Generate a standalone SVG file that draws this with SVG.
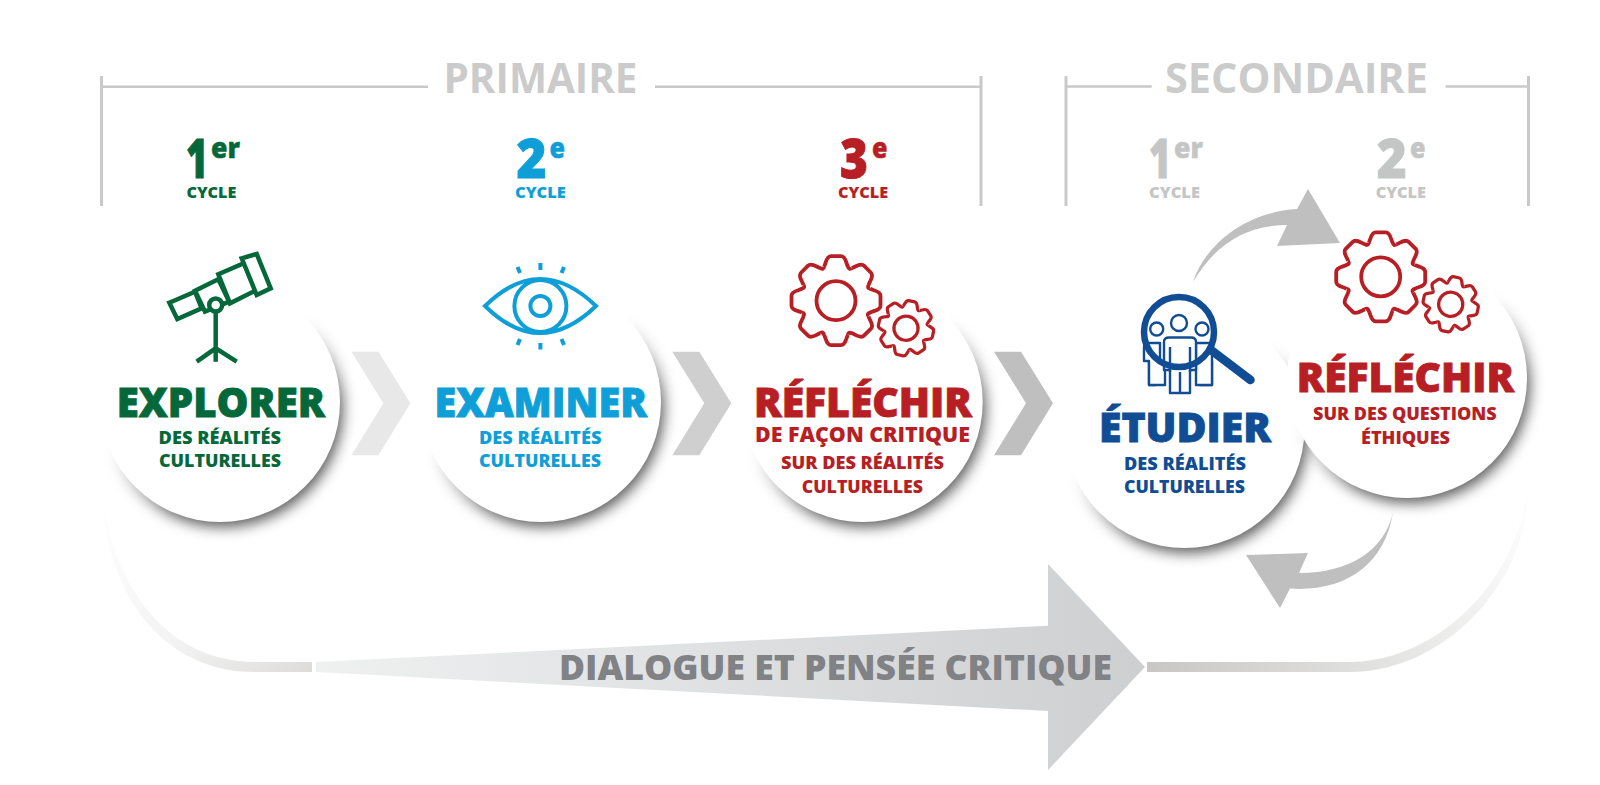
<svg xmlns="http://www.w3.org/2000/svg" xmlns:xlink="http://www.w3.org/1999/xlink" width="1600" height="785" viewBox="0 0 1600 785">
<style>
text{font-family:"Open Sans","Noto Sans","Liberation Sans",sans-serif;font-weight:800;stroke-width:0}
.h{font-size:42px;font-weight:700;fill:#cbcbcb}
.n{font-size:54px;stroke-width:1}.s{font-size:29px;stroke-width:.5}.c{font-size:16.500px}
.t{font-size:40px;stroke-width:.9}.m{font-size:21px}.d{font-size:18px}
.g{fill:#05683a;stroke:#05683a}.b{fill:#0f9fd8;stroke:#0f9fd8}.r{fill:#b71f24;stroke:#b71f24}.y{fill:#c4c6c6;stroke:#c4c6c6}.v{fill:#114d94;stroke:#114d94}
.line{stroke:#c9c9c9;fill:none}
.disc{fill:#fff}
.shad{fill:url(#sg);filter:url(#sh)}
.gear{fill:none;stroke:#b71f24;stroke-linejoin:round}
.tel{fill:#fff;stroke:#05683a;stroke-width:4.500}
.eye{fill:none;stroke:#0f9fd8;stroke-width:4}
.ppl{fill:#fff;stroke:#114d94;stroke-width:2.400;stroke-linejoin:round}
</style>
<defs>
<filter id="sh" x="-20%" y="-20%" width="140%" height="140%"><feGaussianBlur stdDeviation="7"/></filter>
<linearGradient id="sg" x1=".3" y1=".2" x2=".7" y2=".8"><stop offset=".36" stop-color="#000" stop-opacity="0"/><stop offset=".85" stop-color="#000" stop-opacity=".64"/></linearGradient>
<linearGradient id="ga" gradientUnits="userSpaceOnUse" x1="316" y1="0" x2="1145" y2="0"><stop offset="0" stop-color="#eff0f0"/><stop offset="1" stop-color="#cecfd1"/></linearGradient>
<linearGradient id="gl" gradientUnits="userSpaceOnUse" x1="104" y1="490" x2="312" y2="672"><stop offset="0" stop-color="#fff"/><stop offset=".55" stop-color="#f3f3f3"/><stop offset="1" stop-color="#dddcda"/></linearGradient>
<linearGradient id="gr" gradientUnits="userSpaceOnUse" x1="1147" y1="667" x2="1528" y2="490"><stop offset="0" stop-color="#c8c7c3"/><stop offset=".5" stop-color="#e2e2e0"/><stop offset=".8" stop-color="#f3f3f3"/><stop offset="1" stop-color="#fff"/></linearGradient>
<path id="tooth" d="M-12,-34C-10,-37 -10,-44.500 -5,-44.500H5C10,-44.500 10,-37 12,-34Q13,-30.500 15.560,-32.500"/>
<g id="gearp">
<use xlink:href="#tooth" href="#tooth"/>
<use xlink:href="#tooth" href="#tooth" transform="rotate(45)"/>
<use xlink:href="#tooth" href="#tooth" transform="rotate(90)"/>
<use xlink:href="#tooth" href="#tooth" transform="rotate(135)"/>
<use xlink:href="#tooth" href="#tooth" transform="rotate(180)"/>
<use xlink:href="#tooth" href="#tooth" transform="rotate(225)"/>
<use xlink:href="#tooth" href="#tooth" transform="rotate(270)"/>
<use xlink:href="#tooth" href="#tooth" transform="rotate(315)"/>
</g>
<g id="gears">
<g class="gear" stroke-width="3.800"><use xlink:href="#gearp" href="#gearp"/><circle r="19.500"/></g>
<g class="gear" stroke-width="5.200" transform="translate(70,27.500) rotate(12) scale(.62)"><use xlink:href="#gearp" href="#gearp"/><circle r="19.500"/></g>
</g>
<path id="chev" d="M0,0H27L59,51.500L27,103.500H0L32,51.500Z"/>
</defs>

<g id="connectors">
<path fill="url(#gl)" d="M102,490C104,590 160,672 255,672H312V662H255C170,662 112,590 102,490Z"/>
<path fill="url(#gr)" d="M1147,662H1350C1430,662 1515,590 1527,490H1529C1525,590 1440,672 1350,672H1147Z"/>
<path fill="url(#ga)" d="M316,662L1048,625.700V564L1145,667L1048,770V711L316,672Z"/>
<use xlink:href="#chev" href="#chev" x="351.400" y="351.700" fill="#e8e8e8"/>
<use xlink:href="#chev" href="#chev" x="672.300" y="351.700" fill="#cfcfcf"/>
<use xlink:href="#chev" href="#chev" x="994" y="351.700" fill="#bfbfbf"/>
<path fill="#bfbfbf" d="M1193,282C1205,245 1245,212 1297,209L1308,189L1340,243L1277,246L1287,225C1245,225 1215,245 1193,282Z"/>
<path fill="#bfbfbf" d="M1393,512C1385,550 1350,573 1299,573L1308,553L1246,555L1280,608L1290,588.600C1345,592 1385,565 1393,512Z"/>
</g>

<g id="bracket-primaire">
<path class="line" stroke-width="3" d="M101.500,76V206M981,76V206"/>
<path class="line" stroke-width="2.500" d="M101.500,86.700H428M655,86.700H981"/>
<text class="h" x="443.500" y="93.300" textLength="194" lengthAdjust="spacingAndGlyphs">PRIMAIRE</text>
</g>
<g id="bracket-secondaire">
<path class="line" stroke-width="3" d="M1066,76V206M1528.500,76V206"/>
<path class="line" stroke-width="2.500" d="M1066,86.500H1151.700M1445.700,86.500H1528.500"/>
<text class="h" x="1165" y="93.300" textLength="263" lengthAdjust="spacingAndGlyphs">SECONDAIRE</text>
</g>

<g id="cycle-p1" class="g">
<text class="n" x="186" y="178" textLength="22" lengthAdjust="spacingAndGlyphs">1</text>
<text class="s" x="211" y="158" textLength="29" lengthAdjust="spacingAndGlyphs">er</text>
<text class="c" x="186.400" y="197.700" textLength="50" lengthAdjust="spacingAndGlyphs">CYCLE</text>
</g>
<g id="cycle-p2" class="b">
<text class="n" x="516.400" y="178" textLength="30" lengthAdjust="spacingAndGlyphs">2</text>
<text class="s" x="549.600" y="158" textLength="15.500" lengthAdjust="spacingAndGlyphs">e</text>
<text class="c" x="515" y="197.700" textLength="50.700" lengthAdjust="spacingAndGlyphs">CYCLE</text>
</g>
<g id="cycle-p3" class="r">
<text class="n" x="840" y="178" textLength="28" lengthAdjust="spacingAndGlyphs">3</text>
<text class="s" x="872" y="158" textLength="15.500" lengthAdjust="spacingAndGlyphs">e</text>
<text class="c" x="838" y="197.700" textLength="50" lengthAdjust="spacingAndGlyphs">CYCLE</text>
</g>
<g id="cycle-s1" class="y">
<text class="n" x="1149" y="178" textLength="22" lengthAdjust="spacingAndGlyphs">1</text>
<text class="s" x="1174" y="158" textLength="29" lengthAdjust="spacingAndGlyphs">er</text>
<text class="c" x="1149" y="197.700" textLength="51" lengthAdjust="spacingAndGlyphs">CYCLE</text>
</g>
<g id="cycle-s2" class="y">
<text class="n" x="1376.700" y="178" textLength="30" lengthAdjust="spacingAndGlyphs">2</text>
<text class="s" x="1410" y="158" textLength="15.500" lengthAdjust="spacingAndGlyphs">e</text>
<text class="c" x="1375.700" y="197.700" textLength="50.300" lengthAdjust="spacingAndGlyphs">CYCLE</text>
</g>

<g id="node-explorer">
<circle class="shad" cx="223" cy="407" r="120"/>
<circle class="disc" cx="220" cy="402" r="120"/>
<g class="tel">
<path d="M169.300,302.700L195,291.700L201.700,308.300L177.300,319Z"/>
<path d="M195,290.700L218.300,279.300L229.300,301.700L205,311.700Z"/>
<path d="M218.300,274.300L245,262.700L256.700,290L230,303.300Z"/>
<path d="M241.700,258.300L256.700,254L270.700,288.300L256.700,295Z"/>
<path fill="none" d="M215.700,312V361.700M196.700,361.700L215.700,348.300L236.700,361.700"/>
<circle cx="215.700" cy="305" r="6.500"/>
</g>
<g class="g">
<text class="t" x="116.800" y="416.700" textLength="208" lengthAdjust="spacingAndGlyphs">EXPLORER</text>
<text class="d" x="158.600" y="444" textLength="122.400" lengthAdjust="spacingAndGlyphs">DES RÉALITÉS</text>
<text class="d" x="159" y="467" textLength="122" lengthAdjust="spacingAndGlyphs">CULTURELLES</text>
</g>
</g>

<g id="node-examiner">
<circle class="shad" cx="544" cy="407" r="120"/>
<circle class="disc" cx="541" cy="402" r="120"/>
<g class="eye">
<path d="M485,306Q540,252 596,306Q540,360 485,306Z"/>
<circle cx="540.400" cy="306" r="26"/>
<circle cx="540.400" cy="306" r="10"/>
<path d="M540.400,263V270M517.500,267L520,273M564,267L561.500,273M540.400,343V349.500M517.500,345L520,339M564,345L561.500,339"/>
</g>
<g class="b">
<text class="t" x="434.600" y="416.700" textLength="212.400" lengthAdjust="spacingAndGlyphs">EXAMINER</text>
<text class="d" x="479" y="444" textLength="122.400" lengthAdjust="spacingAndGlyphs">DES RÉALITÉS</text>
<text class="d" x="479" y="467" textLength="122" lengthAdjust="spacingAndGlyphs">CULTURELLES</text>
</g>
</g>

<g id="node-reflechir-1">
<circle class="shad" cx="865.700" cy="407" r="120"/>
<circle class="disc" cx="862.700" cy="402" r="120"/>
<use xlink:href="#gears" href="#gears" x="836" y="300.700"/>
<g class="r">
<text class="t" x="754" y="416.700" textLength="218" lengthAdjust="spacingAndGlyphs">RÉFLÉCHIR</text>
<text class="m" x="755" y="441.700" textLength="215" lengthAdjust="spacingAndGlyphs">DE FAÇON CRITIQUE</text>
<text class="d" x="781" y="469" textLength="163" lengthAdjust="spacingAndGlyphs">SUR DES RÉALITÉS</text>
<text class="d" x="801.700" y="493" textLength="121.300" lengthAdjust="spacingAndGlyphs">CULTURELLES</text>
</g>
</g>

<g id="node-etudier">
<circle class="shad" cx="1187.500" cy="433" r="120"/>
<circle class="disc" cx="1184.500" cy="428" r="120"/>
<g class="ppl">
<path d="M1144,361V347Q1144,343 1148,343H1160V361H1156V385H1149V361Z"/>
<path d="M1212,361V347Q1212,343 1208,343H1196V361H1200V385H1212Z"/>
<path d="M1149,361V385H1165V361M1196,361V385H1212V361"/>
<circle cx="1156.700" cy="329" r="6.500"/>
<circle cx="1202" cy="329" r="6.500"/>
<path d="M1164,370V342Q1164,337.500 1169,337.500H1191Q1196,337.500 1196,342V370H1190V393H1170V370Z"/>
<path d="M1170,347V372M1190,347V372M1180,372V393"/>
<circle cx="1179" cy="323" r="8"/>
</g>
<circle cx="1179" cy="332" r="35" fill="none" stroke="#114d94" stroke-width="6.500"/>
<path d="M1211,350L1250.500,380" stroke="#114d94" stroke-width="8.500" stroke-linecap="round" fill="none"/>
<g class="v">
<text class="t" x="1099" y="442" textLength="172" lengthAdjust="spacingAndGlyphs">ÉTUDIER</text>
<text class="d" x="1124" y="469.600" textLength="122" lengthAdjust="spacingAndGlyphs">DES RÉALITÉS</text>
<text class="d" x="1124" y="493" textLength="121" lengthAdjust="spacingAndGlyphs">CULTURELLES</text>
</g>
</g>

<g id="node-reflechir-2">
<circle class="shad" cx="1410" cy="383" r="120"/>
<circle class="disc" cx="1407" cy="378" r="120"/>
<use xlink:href="#gears" href="#gears" x="1380.700" y="276.800"/>
<g class="r">
<text class="t" x="1296.700" y="392" textLength="217.300" lengthAdjust="spacingAndGlyphs">RÉFLÉCHIR</text>
<text class="d" x="1313" y="420" textLength="183.700" lengthAdjust="spacingAndGlyphs">SUR DES QUESTIONS</text>
<text class="d" x="1361" y="444" textLength="89" lengthAdjust="spacingAndGlyphs">ÉTHIQUES</text>
</g>
</g>

<g id="label-dialogue">
<text x="559" y="680" font-size="35" fill="#808285" textLength="553" lengthAdjust="spacingAndGlyphs">DIALOGUE ET PENSÉE CRITIQUE</text>
</g>
</svg>
